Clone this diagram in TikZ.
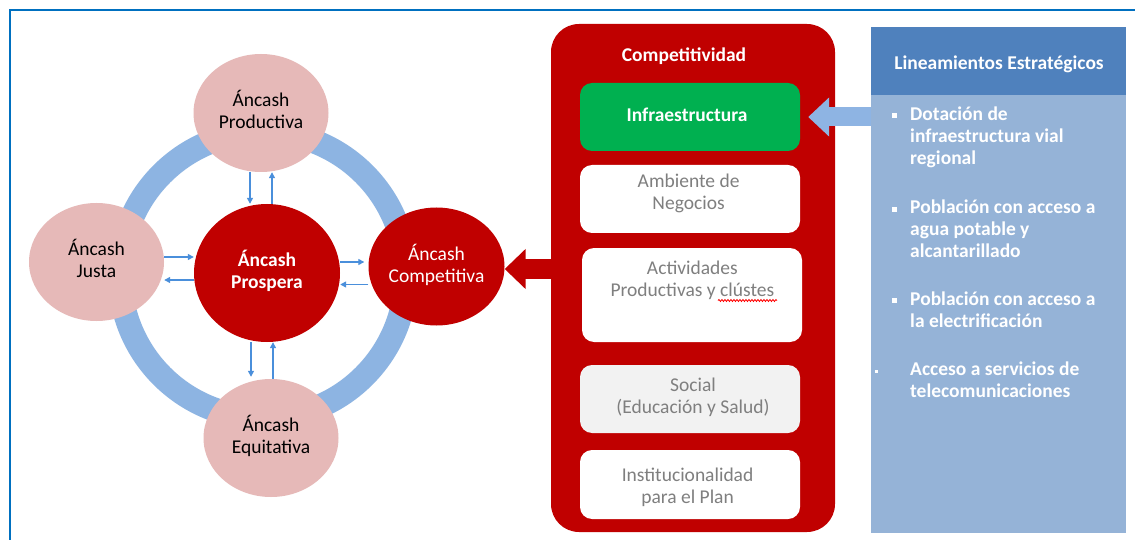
\documentclass[tikz,border=0pt]{standalone}
\usepackage{fontspec}
\setmainfont{Carlito}
\usetikzlibrary{shapes.geometric,arrows.meta,decorations.pathmorphing}
\definecolor{frameblue}{HTML}{0070C0}
\definecolor{ringblue}{HTML}{8DB4E2}
\definecolor{satpink}{HTML}{E6B9B8}
\definecolor{deepred}{HTML}{C00000}
\definecolor{linkblue}{HTML}{4A8FDB}
\definecolor{infragreen}{HTML}{00B050}
\definecolor{boxgray}{HTML}{F2F2F2}
\definecolor{textgray}{HTML}{7F7F7F}
\definecolor{hdrblue}{HTML}{4F81BD}
\definecolor{panelblue}{HTML}{95B3D7}
\definecolor{pointerblue}{HTML}{8EB4E3}
\definecolor{spellred}{HTML}{FF0000}
\begin{document}
\begin{tikzpicture}[x=1pt,y=-1pt,
  rfont/.style={font=\fontsize{19.5}{22}\selectfont},
  bfont/.style={font=\fontsize{19.5}{22}\selectfont\bfseries},
  txt/.style={align=center, inner sep=0pt},
  sat/.style={ellipse, fill=satpink, minimum width=135pt, minimum height=118pt, inner sep=0pt, txt, rfont, text=black},
  core/.style={ellipse, fill=deepred, inner sep=0pt, txt, text=white},
  link/.style={draw=linkblue, line width=1.3pt, -{Triangle[length=6pt,width=6pt]}},
  inbox/.style={rectangle, rounded corners=12pt, minimum width=220pt, inner sep=0pt},
  boxtext/.style={txt, rfont, text=textgray},
  itemtext/.style={align=left, inner sep=0pt, anchor=north west, bfont, text=white},
  panel/.style={rectangle, minimum width=255pt, inner sep=0pt},
]
\useasboundingbox (0,0) rectangle (1135,540);
\fill[white] (0,0) rectangle (1135,540);
\draw[frameblue, line width=2pt] (10,545) -- (10,10) -- (1140,10);

% ring
\coordinate (ringc) at (263,275);
\draw[ringblue, line width=24pt] (ringc) circle[radius=143pt];

% circles
\node[sat] (prod) at (261,113) {\strut Áncash\\\strut Productiva};
\node[sat] (justa) at (96.5,262) {\strut Áncash\\\strut Justa};
\node[sat] (equi) at (271,438) {\strut Áncash\\\strut Equitativa};
\node[core, bfont, minimum width=146pt, minimum height=138pt] (prosp) at (267,273) {\strut Áncash\\\strut Prospera};
\node[core, rfont, minimum width=136pt, minimum height=118pt] (comp) at (436.5,266.5) {\strut Áncash\\\strut Competitiva};

% small links
\coordinate (vA) at (250,0);
\coordinate (vB) at (272,0);
\coordinate (vC) at (251,0);
\coordinate (vD) at (273,0);
\coordinate (hA) at (0,257);
\coordinate (hB) at (0,280);
\coordinate (hC) at (0,262);
\coordinate (hD) at (0,284.5);
\draw[link] (prod.south -| vA) -- (prosp.north -| vA);
\draw[link] (prosp.north -| vB) -- (prod.south -| vB);
\draw[link] (justa.east |- hA) -- (prosp.west |- hA);
\draw[link] (prosp.west |- hB) -- (justa.east |- hB);
\draw[link, shorten >=4pt] (prosp.east |- hC) -- (comp.west |- hC);
\draw[link] (comp.west |- hD) -- (prosp.east |- hD);
\draw[link, shorten >=2pt] (prosp.south -| vC) -- (equi.north -| vC);
\draw[link] (equi.north -| vD) -- (prosp.south -| vD);

% competitividad box
\node[rectangle, rounded corners=28pt, fill=deepred, minimum width=284pt, minimum height=508pt, inner sep=0pt] (cbox) at (693,278) {};
\node[txt, bfont, text=white] (ctitle) at (684,57) {\strut Competitividad};

\node[inbox, fill=infragreen, minimum height=68pt] (infra) at (690,117) {};
\node[txt, bfont, text=white] (infratxt) at (687,117) {\strut Infraestructura};

\node[inbox, fill=white, minimum height=68pt] (amb) at (690,199) {};
\node[boxtext] (ambtxt) at (688.6,194) {\strut Ambiente de\\\strut Negocios};

\node[inbox, fill=white, minimum height=94pt] (act) at (692,295) {};
\node[boxtext] (acttxt) at (692.4,281.5) {\strut Actividades\\\strut Productivas y clústes};
\draw[spellred, line width=0.8pt, decorate, decoration={snake, amplitude=1pt, segment length=3pt}] (718,300.5) -- (777,300.5);

\node[inbox, fill=boxgray, minimum height=68pt] (soc) at (690,399) {};
\node[boxtext] (soctxt) at (693,398) {\strut Social\\\strut (Educación y Salud)};

\node[inbox, fill=white, minimum height=69pt] (inst) at (690,484.5) {};
\node[boxtext] (insttxt) at (687.6,487.6) {\strut Institucionalidad\\\strut para el Plan};

% red arrow to Competitiva
\coordinate (rlev) at (0,269);
\draw[deepred, line width=20pt, -{Triangle[length=21pt,width=39pt]}] ([xshift=2pt]cbox.west |- rlev) -- (comp.east |- rlev);

% right panel
\node[panel, fill=hdrblue, minimum height=68pt] (hdr) at (998.5,61) {};
\node[txt, bfont, text=white] (hdrtxt) at (999,65.5) {\strut Lineamientos Estratégicos};
\node[panel, fill=panelblue, minimum height=438pt] (body) at (998.5,314) {};

% pointer arrow
\draw[pointerblue, line width=19pt, -{Triangle[length=21pt,width=38pt]}] (body.west |- infra) -- ([xshift=8pt]infra.east);

% bullets
\fill[white] (891.5,113) rectangle (896.5,118);
\fill[white] (891.5,207) rectangle (896.5,212);
\fill[white] (891.5,297.5) rectangle (896.5,302.5);
\fill[white] (875,369.5) rectangle (878,372.5);

\node[itemtext] (it1) at (910,104.6) {\strut Dotación de\\\strut infraestructura vial\\\strut regional};
\node[itemtext] (it2) at (910,197.6) {\strut Población con acceso a\\\strut agua potable y\\\strut alcantarillado};
\node[itemtext] (it3) at (910,289.6) {\strut Población con acceso a\\\strut la electrificación};
\node[itemtext] (it4) at (910,359.6) {\strut Acceso a servicios de\\\strut telecomunicaciones};
\end{tikzpicture}
\end{document}
